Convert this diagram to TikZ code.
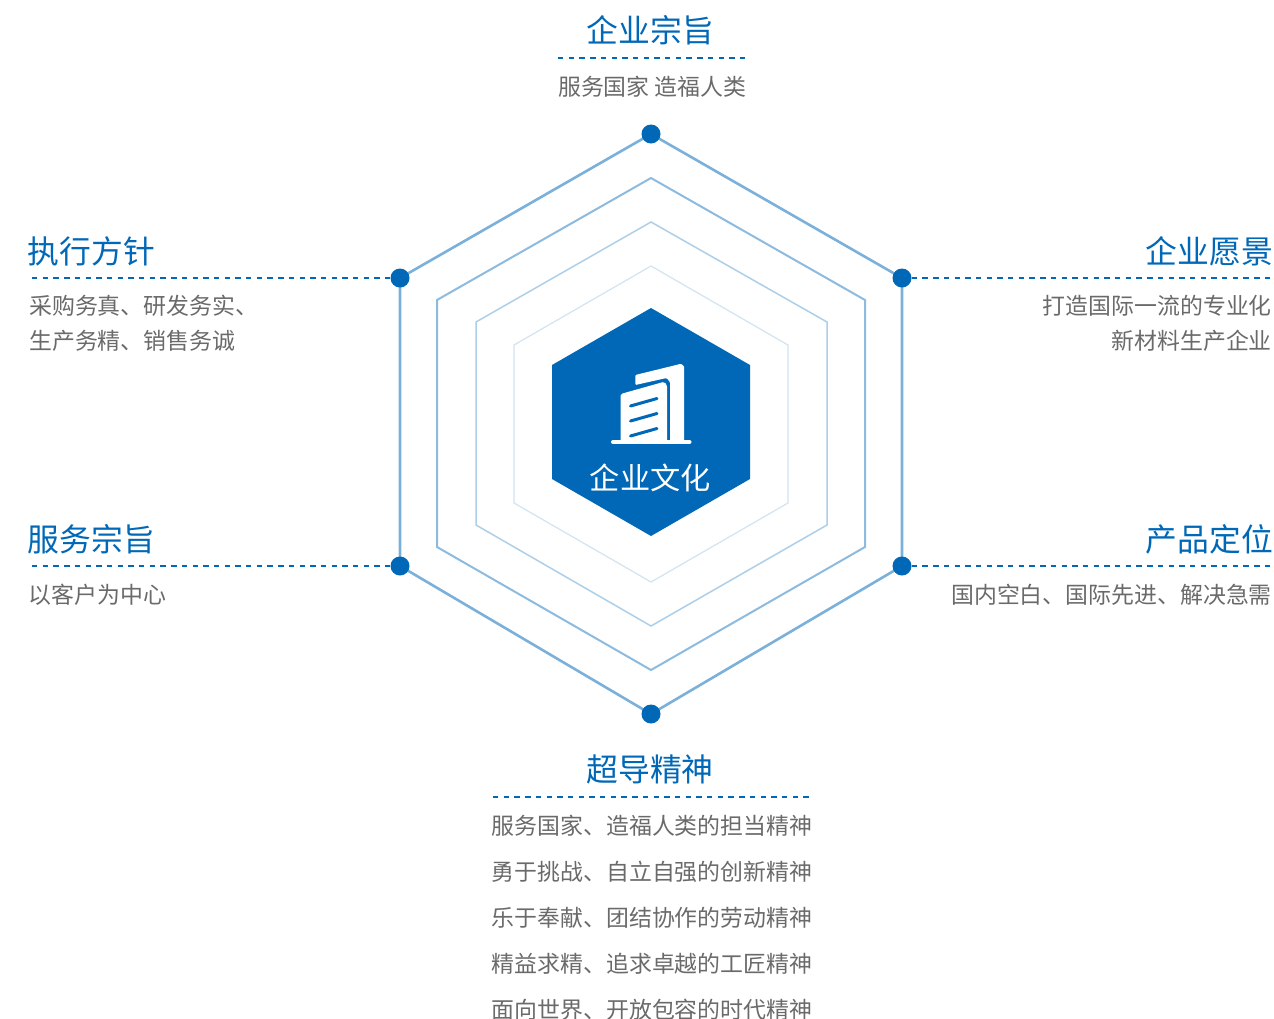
\documentclass[tikz,border=0pt]{standalone}
\usepackage{fontspec}
\setmainfont{Noto Sans CJK SC}
\definecolor{blu}{HTML}{0068B7}
\definecolor{gry}{HTML}{6A6A6A}
\tikzset{
 x=1pt,y=-1pt,
 title/.style={text=blu,font=\fontsize{31.8}{32}\selectfont,inner sep=0pt},
 body/.style={text=gry,font=\fontsize{22.9}{23}\selectfont,inner sep=0pt},
 dot/.style={circle,fill=blu,minimum size=19pt,inner sep=0pt},
 lead/.style={blu,line width=2.8pt,dash pattern=on 5.4pt off 5.3pt},
 hexa/.style={line join=miter,fill=white},
}
\begin{document}
\begin{tikzpicture}
\useasboundingbox (0,0) rectangle (1274,1018);
% rings
\draw[hexa,draw=blu!52,line width=2.6pt] (651,134)--(902,278)--(902,566)--(651,714)--(400,566)--(400,278)--cycle;
\draw[hexa,draw=blu!45,line width=2pt] (651,178)--(865,300)--(865,547)--(651,670)--(437,547)--(437,300)--cycle;
\draw[hexa,draw=blu!32,line width=1.5pt] (651,222)--(827,322)--(827,525)--(651,626)--(476,525)--(476,322)--cycle;
\draw[hexa,draw=blu!18,line width=1.2pt] (651,266)--(788,345)--(788,503)--(651,582)--(514,503)--(514,345)--cycle;
\fill[blu] (651,308)--(750,365)--(750,479)--(651,536)--(552,479)--(552,365)--cycle;
% building icon
\fill[white,rounded corners=1pt] (635.3,375)--(681,363.8)--(684,366)--(684,442)--(670,442)--(670,382)--(666.5,378)--(635.3,385)--cycle;
\fill[white,rounded corners=1.5pt] (620.7,394)--(664,381.8)--(667,385)--(667,442)--(620.7,442)--cycle;
\draw[white,line width=4pt,line cap=round] (613,442)--(689.5,442);
\draw[blu,line width=3pt,line cap=round] (630.5,406)--(657,398.5) (630.5,421)--(657,413.5) (630.5,436)--(657,428.5);
\node[text=white,font=\fontsize{30.2}{30}\selectfont,inner sep=0pt] (center) at (650.3,478) {企业文化};
% dots
\node[dot] (dt) at (651,134) {};
\node[dot] (dtr) at (902,278) {};
\node[dot] (dbr) at (902,566) {};
\node[dot] (db) at (651,714) {};
\node[dot] (dbl) at (400,566) {};
\node[dot] (dtl) at (400,278) {};
% leaders
\coordinate (a1) at (32,278); \coordinate (a2) at (1270,278);
\coordinate (a3) at (32,566); \coordinate (a4) at (1270,566);
\coordinate (a5) at (558,58); \coordinate (a6) at (746,58);
\coordinate (a7) at (493,797); \coordinate (a8) at (811,797);
\draw[lead] (a1)--(dtl);
\draw[lead] (dtr)--(a2);
\draw[lead] (a3)--(dbl);
\draw[lead] (dbr)--(a4);
\draw[lead] (a5)--(a6);
\draw[lead] (a7)--(a8);
% top
\node[title] (t1) at (650.3,30) {企业宗旨};
\node[body] (b1) at (652.3,87) {服务国家 造福人类};
% upper left
\node[title,anchor=west] (t2) at (27.5,251) {执行方针};
\node[body,anchor=west] (b2a) at (29,306) {采购务真、研发务实、};
\node[body,anchor=west] (b2b) at (29,341) {生产务精、销售务诚};
% upper right
\node[title,anchor=east] (t3) at (1273,251) {企业愿景};
\node[body,anchor=east] (b3a) at (1272,306) {打造国际一流的专业化};
\node[body,anchor=east] (b3b) at (1272,341) {新材料生产企业};
% lower left
\node[title,anchor=west] (t4) at (27.5,539) {服务宗旨};
\node[body,anchor=west] (b4) at (28.5,595) {以客户为中心};
% lower right
\node[title,anchor=east] (t5) at (1273,539) {产品定位};
\node[body,anchor=east] (b5) at (1272,595) {国内空白、国际先进、解决急需};
% bottom
\node[title] (t6) at (650,769) {超导精神};
\node[body] (l1) at (652,826) {服务国家、造福人类的担当精神};
\node[body] (l2) at (652,872) {勇于挑战、自立自强的创新精神};
\node[body] (l3) at (652,918) {乐于奉献、团结协作的劳动精神};
\node[body] (l4) at (652,964) {精益求精、追求卓越的工匠精神};
\node[body] (l5) at (652,1010) {面向世界、开放包容的时代精神};
\end{tikzpicture}
\end{document}
